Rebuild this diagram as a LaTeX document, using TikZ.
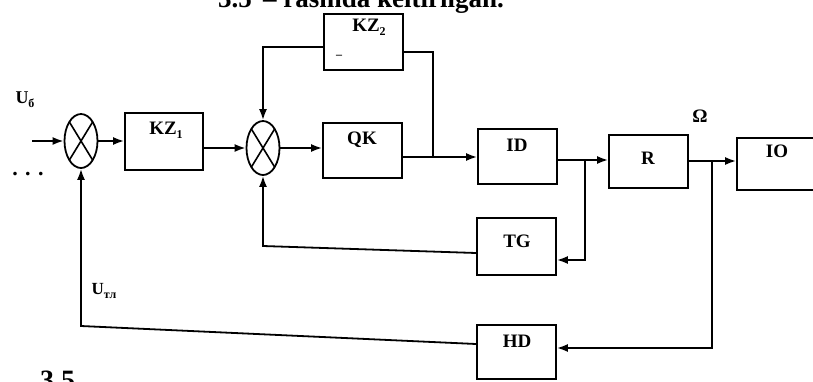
\documentclass[tikz,border=0pt]{standalone}
\usepackage{fontspec}
\setmainfont{Liberation Serif}
\usetikzlibrary{arrows.meta,shapes.geometric}
\newcommand{\mysub}[1]{\raisebox{-0.5ex}{\fontsize{12}{12}\selectfont #1}}
\tikzset{
  blk/.style={draw, line width=1.8pt, inner sep=0pt, minimum width=79pt, minimum height=55pt},
  lbl/.style={inner sep=0pt, font=\fontsize{19}{19}\selectfont\bfseries},
  sumn/.style={draw, ellipse, line width=1.8pt, inner sep=0pt, minimum width=33pt, minimum height=54pt,
     path picture={\draw[line width=1.6pt] (path picture bounding box.north west) -- (path picture bounding box.south east)
       (path picture bounding box.north east) -- (path picture bounding box.south west);}},
  wire/.style={line width=1.8pt},
  arr/.style={wire, -{Latex[length=11pt,width=8pt]}},
}
\begin{document}
\begin{tikzpicture}[x=1pt,y=-1pt]
\useasboundingbox (0,0) rectangle (813,381);
\clip (0,0) rectangle (813,381);
% page text fragments
\node[anchor=base east, inner sep=0pt, font=\fontsize{27}{27}\selectfont\bfseries] (toptxt) at (504,7.5) {3.5 \,– rasmda keltirilgan.};
\node[anchor=base west, inner sep=0pt, font=\fontsize{28}{28}\selectfont\bfseries] (bottxt) at (40,389) {3.5};
% summing junctions
\node[sumn] (s1) at (81,141) {};
\node[sumn] (s2) at (263,148) {};
% blocks
\node[blk, minimum width=78pt, minimum height=57pt] (KZ1) at (164,141.5) {};
\node[lbl] (KZ1t) at (166,130) {KZ\mysub{1}};
\node[blk, minimum height=56pt] (KZ2) at (363.5,42) {};
\node[lbl] (KZ2t) at (369,27) {KZ\mysub{2}};
\node[inner sep=0pt, font=\fontsize{12}{12}\selectfont\bfseries] (KZ2d) at (339,57) {–};
\node[blk] (QK) at (362.5,150.5) {};
\node[lbl] (QKt) at (362,139.5) {QK};
\node[blk] (ID) at (517.5,156.5) {};
\node[lbl] (IDt) at (517,145) {ID};
\node[blk, minimum height=53pt] (R) at (648.5,161.5) {};
\node[lbl] (Rt) at (648,158) {R};
\node[blk, minimum width=92pt, minimum height=52pt] (IO) at (783,164) {};
\node[lbl] (IOt) at (777,151) {IO};
\node[blk, minimum height=57pt] (TG) at (516.5,246.5) {};
\node[lbl] (TGt) at (517,241) {TG};
\node[blk, minimum height=54pt] (HD) at (516.5,352) {};
\node[lbl] (HDt) at (517,341) {HD};
% labels
\node[lbl] (om) at (700,116) {Ω};
\node[lbl, font=\fontsize{18}{18}\selectfont\bfseries] (ub) at (25,100) {U\mysub{б}};
\node[lbl, font=\fontsize{17}{17}\selectfont\bfseries] (ut) at (104,291) {U\mysub{тл}};
\node[lbl, font=\fontsize{22}{22}\selectfont\bfseries] (dots) at (28,174) {. . .};
% connectors
\coordinate (in) at (32,141);
\draw[arr] (in) -- (s1.west);
\draw[arr] (s1.east) -- (KZ1.west |- s1.east);
\draw[arr] (KZ1.east |- s2.west) -- (s2.west);
\draw[arr] (s2.east) -- (QK.west |- s2.east);
\draw[arr] (QK.east |- 0,157) -- (ID.west |- 0,157);
\coordinate (b1) at (433,157);
\draw[wire] (b1) -- (433,52) -- (KZ2.east |- 0,52);
\draw[arr] (KZ2.west |- 0,47) -- (s2.north |- 0,47) -- (s2.north);
\draw[arr] (ID.east |- 0,160) -- (R.west |- 0,160);
\coordinate (b2) at (585,160);
\draw[arr] (b2) -- (585,260) -- (TG.east |- 0,260);
\draw[arr] (TG.west |- 0,253) -- (s2.south |- 0,246) -- (s2.south);
\draw[arr] (R.east |- 0,161) -- (IO.west |- 0,161);
\coordinate (b3) at (712,161);
\draw[arr] (b3) -- (712,348) -- (HD.east |- 0,348);
\draw[arr] (HD.west |- 0,344) -- (s1.south |- 0,326) -- (s1.south);
\end{tikzpicture}
\end{document}
